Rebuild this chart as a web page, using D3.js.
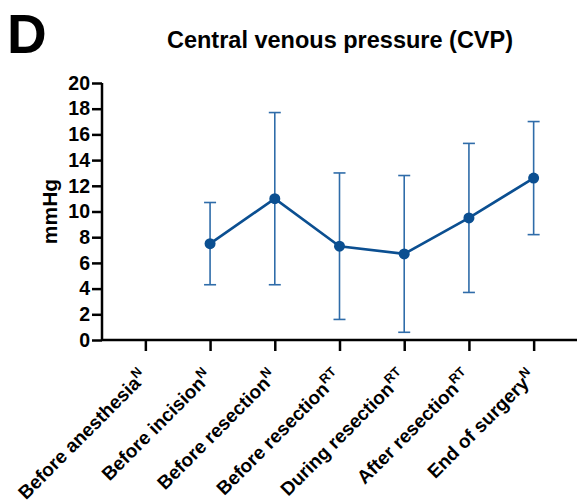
<!DOCTYPE html>
<html>
<head>
<meta charset="utf-8">
<script src="https://cdn.jsdelivr.net/npm/d3@7"></script>
<style>
  body { margin: 0; background: #fff; }
  svg { font-family: "Liberation Sans", Arial, sans-serif; font-weight: bold; }
</style>
</head>
<body>
<div id="chart"></div>
<script>
  // categories (label text + superscript)
  var categories = ["Before anesthesia", "Before incision", "Before resection", "Before resection",
                    "During resection", "After resection", "End of surgery"];
  var superscripts = ["N", "N", "N", "RT", "RT", "RT", "N"];
  // mean values; first time point has no data
  var means = [null, 7.5, 11.0, 7.3, 6.7, 9.5, 12.6];
  var upper = [null, 10.7, 17.7, 13.0, 12.8, 15.3, 17.0];
  var lower = [null, 4.3, 4.3, 1.6, 0.6, 3.7, 8.2];
  var yTicks = [0, 2, 4, 6, 8, 10, 12, 14, 16, 18, 20];

  var width = 577, height = 503;
  var margin = {left: 102, right: 0, top: 83, bottom: 163};

  var svg = d3.select("#chart").append("svg")
    .attr("width", width)
    .attr("height", height);

  var idx = d3.range(categories.length);

  var x = d3.scalePoint()
    .domain(idx)
    .range([margin.left, width - margin.right])
    .padding(0.67);

  var y = d3.scaleLinear()
    .domain([0, 20])
    .range([height - margin.bottom, margin.top]);

  var lineColor = "#0b4f91",
      errColor = "#2f6ca9";

  // y axis
  var yAxis = svg.append("g")
    .attr("transform", "translate(" + margin.left + ",0)")
    .call(d3.axisLeft(y).tickValues(yTicks).tickSize(10).tickPadding(2));
  yAxis.select(".domain").attr("stroke", "#000").attr("stroke-width", 2.5)
    .attr("d", "M0," + y(20) + "V" + y(0));
  yAxis.selectAll(".tick line").attr("stroke", "#000").attr("stroke-width", 2.5);
  yAxis.selectAll(".tick text").attr("font-size", 19.5).attr("fill", "#000")
    .attr("font-family", "Liberation Sans, Arial, sans-serif").attr("font-weight", "bold");

  // x axis
  var xAxis = svg.append("g")
    .attr("transform", "translate(0," + y(0) + ")")
    .call(d3.axisBottom(x).tickSize(11).tickFormat(""));
  xAxis.select(".domain").attr("stroke", "#000").attr("stroke-width", 2.5)
    .attr("d", "M" + margin.left + ",0H" + width);
  xAxis.selectAll(".tick line").attr("stroke", "#000").attr("stroke-width", 2.5);

  // rotated category labels
  idx.forEach(function(i) {
    var t = svg.append("text")
      .attr("transform", "translate(" + (x(i) + 3) + "," + (y(0) + 38) + ") rotate(-45)")
      .attr("text-anchor", "end")
      .attr("font-size", 19)
      .attr("fill", "#000");
    t.append("tspan").text(categories[i]);
    t.append("tspan").attr("font-size", 13).attr("dy", -8).text(superscripts[i]);
  });

  var pts = idx.filter(function(i) { return means[i] != null; });

  // error bars
  var eb = svg.append("g").attr("stroke", errColor).attr("stroke-width", 1.6).attr("fill", "none");
  pts.forEach(function(i) {
    eb.append("line").attr("x1", x(i)).attr("x2", x(i)).attr("y1", y(lower[i])).attr("y2", y(upper[i]));
    eb.append("line").attr("x1", x(i) - 6).attr("x2", x(i) + 6).attr("y1", y(lower[i])).attr("y2", y(lower[i]));
    eb.append("line").attr("x1", x(i) - 6).attr("x2", x(i) + 6).attr("y1", y(upper[i])).attr("y2", y(upper[i]));
  });

  // mean line
  var line = d3.line()
    .x(function(i) { return x(i); })
    .y(function(i) { return y(means[i]); });
  svg.append("path")
    .datum(pts)
    .attr("d", line)
    .attr("fill", "none")
    .attr("stroke", lineColor)
    .attr("stroke-width", 2.6);

  svg.selectAll("circle.pt")
    .data(pts)
    .enter().append("circle")
    .attr("class", "pt")
    .attr("cx", function(i) { return x(i); })
    .attr("cy", function(i) { return y(means[i]); })
    .attr("r", 5.5)
    .attr("fill", lineColor);

  // y label
  svg.append("text")
    .attr("transform", "translate(57," + y(10) + ") rotate(-90)")
    .attr("text-anchor", "middle")
    .attr("font-size", 21)
    .attr("fill", "#000")
    .text("mmHg");

  // title and panel letter
  svg.append("text")
    .attr("x", 340).attr("y", 48)
    .attr("text-anchor", "middle")
    .attr("font-size", 23.5)
    .attr("fill", "#000")
    .text("Central venous pressure (CVP)");

  svg.append("text")
    .attr("x", 7).attr("y", 53)
    .attr("font-size", 55)
    .attr("fill", "#000")
    .text("D");
</script>
</body>
</html>
